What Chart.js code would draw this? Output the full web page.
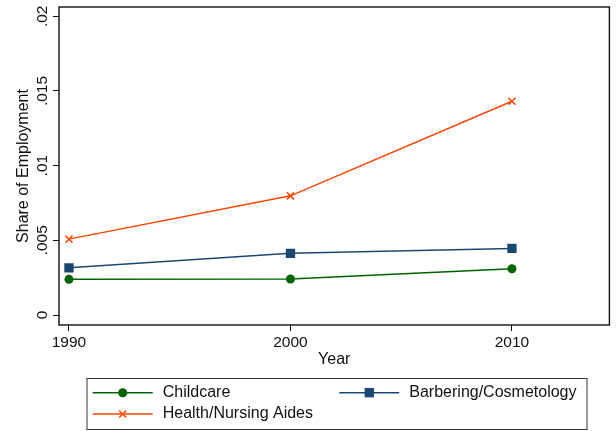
<!DOCTYPE html>
<html><head><meta charset="utf-8">
<style>html,body{margin:0;padding:0;background:#fff}#wrap{width:616px;height:431px}</style>
<script src="https://cdn.jsdelivr.net/npm/chart.js@4"></script>
</head><body><div id="wrap"><canvas id="c" width="616" height="431"></canvas></div>
<script>
const years = [1990, 2000, 2010];
const childcare = [0.00239, 0.00241, 0.00310];
const barbering = [0.00316, 0.00413, 0.00446];
const health = [0.00508, 0.00798, 0.01431];
const seriesNames = ['Childcare', 'Barbering/Cosmetology', 'Health/Nursing Aides'];
const xTickValues = [1990, 2000, 2010];
const yTickValues = [0, 0.005, 0.01, 0.015, 0.02];
const yTickLabels = ['0', '.005', '.01', '.015', '.02'];

const FONT = '"Liberation Sans", Arial, Helvetica, sans-serif';
const toXY = vals => years.map((yr, i) => ({x: yr, y: vals[i]}));

function drawMarker(ctx, ds, x, y) {
  ctx.save();
  ctx.fillStyle = ds.pointBackgroundColor;
  ctx.strokeStyle = ds.pointBorderColor;
  ctx.lineWidth = ds.pointBorderWidth || 1;
  const r = ds.pointRadius;
  ctx.beginPath();
  if (ds.pointStyle === 'circle') {
    ctx.arc(x, y, r, 0, Math.PI * 2); ctx.fill();
  } else if (ds.pointStyle === 'rect') {
    const s = Math.SQRT1_2 * r; ctx.rect(x - s, y - s, 2 * s, 2 * s); ctx.fill();
  } else {
    const s = Math.SQRT1_2 * r;
    ctx.moveTo(x - s, y - s); ctx.lineTo(x + s, y + s);
    ctx.moveTo(x - s, y + s); ctx.lineTo(x + s, y - s); ctx.stroke();
  }
  ctx.restore();
}

const framePlugin = {
  id: 'frame',
  afterDraw(chart) {
    const {ctx, chartArea: a, scales} = chart;
    ctx.save();
    ctx.strokeStyle = '#111';
    ctx.lineWidth = 1.4;
    ctx.strokeRect(a.left, a.top, a.right - a.left, a.bottom - a.top);
    ctx.fillStyle = '#111';
    ctx.font = '15.5px ' + FONT;
    ctx.textAlign = 'center';
    ctx.textBaseline = 'alphabetic';
    yTickValues.forEach((v, i) => {
      const py = scales.y.getPixelForValue(v);
      ctx.save();
      ctx.translate(46.5, py);
      ctx.rotate(-Math.PI / 2);
      ctx.fillText(yTickLabels[i], 0, 0);
      ctx.restore();
    });
    ctx.strokeStyle = '#333';
    ctx.lineWidth = 1;
    ctx.strokeRect(87, 378.5, 500, 51);
    const slots = [[92.7, 392.7], [339.3, 392.7], [92.7, 414]];
    chart.data.datasets.forEach((ds, i) => {
      const [lx, ly] = slots[i];
      ctx.strokeStyle = ds.borderColor;
      ctx.lineWidth = ds.borderWidth;
      ctx.beginPath(); ctx.moveTo(lx, ly); ctx.lineTo(lx + 60, ly); ctx.stroke();
      drawMarker(ctx, ds, lx + 30, ly);
      ctx.fillStyle = '#111';
      ctx.textAlign = 'left';
      ctx.textBaseline = 'middle';
      ctx.font = '16px ' + FONT;
      ctx.fillText(ds.label, lx + 70, ly);
    });
    ctx.restore();
  }
};

const colors = ['#006400', '#1A476F', '#FF4500'];
const styles = ['circle', 'rect', 'crossRot'];
const radii = [4.5, 6.6, 5];
const seriesData = [childcare, barbering, health];

new Chart(document.getElementById('c'), {
  type: 'line',
  data: {
    datasets: seriesData.map((vals, i) => ({
      label: seriesNames[i],
      data: toXY(vals),
      borderColor: colors[i],
      backgroundColor: colors[i],
      borderWidth: 1.5,
      pointStyle: styles[i],
      pointRadius: radii[i],
      pointHoverRadius: radii[i],
      pointBackgroundColor: colors[i],
      pointBorderColor: colors[i],
      pointBorderWidth: i === 2 ? 1.5 : 0,
      fill: false,
      tension: 0
    }))
  },
  options: {
    responsive: false,
    animation: false,
    devicePixelRatio: 1,
    layout: {padding: {left: 0, top: 7, right: 2, bottom: 62}},
    plugins: {legend: {display: false}, tooltip: {enabled: false}},
    scales: {
      x: {
        type: 'linear',
        min: 1989.55, max: 2014.4,
        afterBuildTicks: s => { s.ticks = xTickValues.map(v => ({value: v})); },
        afterFit: s => { s.height = 44; s.paddingLeft = 0; s.paddingRight = 0; },
        grid: {drawOnChartArea: false, drawTicks: true, tickLength: 6, tickColor: '#111', tickWidth: 1},
        border: {display: false},
        ticks: {
          color: '#111', padding: 2, maxRotation: 0, autoSkip: false,
          font: {family: FONT, size: 15.5},
          callback: v => String(v)
        },
        title: {display: true, text: 'Year', color: '#111', font: {family: FONT, size: 16}, padding: {top: 0, bottom: 0}}
      },
      y: {
        type: 'linear',
        min: -0.000669, max: 0.020622,
        afterBuildTicks: s => { s.ticks = yTickValues.map(v => ({value: v})); },
        afterFit: s => { s.width = 59; s.paddingTop = 0; s.paddingBottom = 0; },
        grid: {drawOnChartArea: false, drawTicks: true, tickLength: 6, tickColor: '#111', tickWidth: 1},
        border: {display: false},
        ticks: {display: false},
        title: {display: true, text: 'Share of Employment', color: '#111', font: {family: FONT, size: 16}, padding: {top: 13.5, bottom: 0}}
      }
    }
  },
  plugins: [framePlugin]
});
</script></body></html>
